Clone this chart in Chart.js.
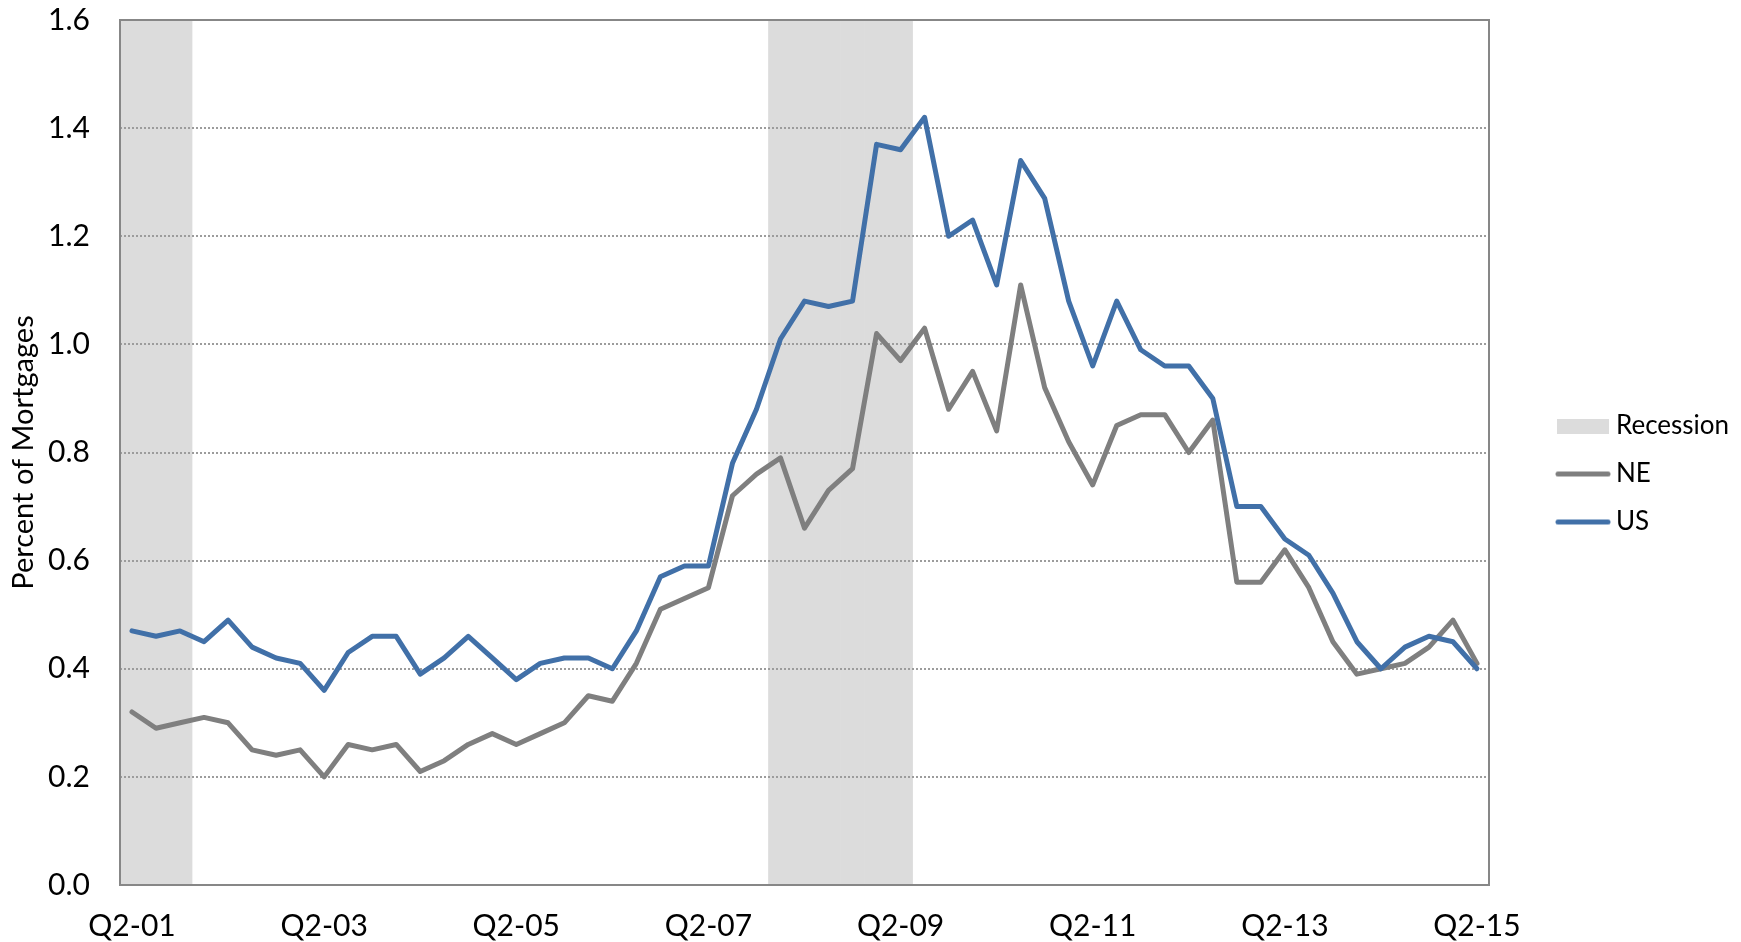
<!DOCTYPE html>
<html>
<head>
<meta charset="utf-8">
<script src="https://cdn.jsdelivr.net/npm/chart.js@4.4.1/dist/chart.umd.min.js"></script>
<style>
  html, body { margin: 0; padding: 0; background: #ffffff; }
  #wrap { position: relative; width: 1741px; height: 942px; }
</style>
</head>
<body>
<div id="wrap"><canvas id="c"></canvas></div>
<script>
const categories = [
  "Q2-01","Q3-01","Q4-01",
  "Q1-02","Q2-02","Q3-02","Q4-02",
  "Q1-03","Q2-03","Q3-03","Q4-03",
  "Q1-04","Q2-04","Q3-04","Q4-04",
  "Q1-05","Q2-05","Q3-05","Q4-05",
  "Q1-06","Q2-06","Q3-06","Q4-06",
  "Q1-07","Q2-07","Q3-07","Q4-07",
  "Q1-08","Q2-08","Q3-08","Q4-08",
  "Q1-09","Q2-09","Q3-09","Q4-09",
  "Q1-10","Q2-10","Q3-10","Q4-10",
  "Q1-11","Q2-11","Q3-11","Q4-11",
  "Q1-12","Q2-12","Q3-12","Q4-12",
  "Q1-13","Q2-13","Q3-13","Q4-13",
  "Q1-14","Q2-14","Q3-14","Q4-14",
  "Q1-15","Q2-15"
];

const neValues = [
  0.32,0.29,0.30,0.31,0.30,0.25,0.24,0.25,0.20,0.26,
  0.25,0.26,0.21,0.23,0.26,0.28,0.26,0.28,0.30,0.35,
  0.34,0.41,0.51,0.53,0.55,0.72,0.76,0.79,0.66,0.73,
  0.77,1.02,0.97,1.03,0.88,0.95,0.84,1.11,0.92,0.82,
  0.74,0.85,0.87,0.87,0.80,0.86,0.56,0.56,0.62,0.55,
  0.45,0.39,0.40,0.41,0.44,0.49,0.41
];

const usValues = [
  0.47,0.46,0.47,0.45,0.49,0.44,0.42,0.41,0.36,0.43,
  0.46,0.46,0.39,0.42,0.46,0.42,0.38,0.41,0.42,0.42,
  0.40,0.47,0.57,0.59,0.59,0.78,0.88,1.01,1.08,1.07,
  1.08,1.37,1.36,1.42,1.20,1.23,1.11,1.34,1.27,1.08,
  0.96,1.08,0.99,0.96,0.96,0.90,0.70,0.70,0.64,0.61,
  0.54,0.45,0.40,0.44,0.46,0.45,0.40
];

// 1 = quarter in recession
const recessionFlags = [
  1,1,1,0,0,0,0,0,0,0,
  0,0,0,0,0,0,0,0,0,0,
  0,0,0,0,0,0,0,1,1,1,
  1,1,1,0,0,0,0,0,0,0,
  0,0,0,0,0,0,0,0,0,0,
  0,0,0,0,0,0,0
];

const yTicks = [0.0,0.2,0.4,0.6,0.8,1.0,1.2,1.4,1.6];
const xLabelEvery = 8;

const Y_MAX = 1.6;
const recessionValues = recessionFlags.map(f => f ? Y_MAX : null);

const COLORS = { ne: '#7f7f7f', us: '#4170a8', rec: '#dcdcdc', frame: '#878787', grid: '#9c9c9c' };
const FONT = "Lato, 'DejaVu Sans', sans-serif";

function rectSwatch(w, h, color) {
  const c = document.createElement('canvas');
  c.width = w; c.height = h;
  const g = c.getContext('2d');
  g.fillStyle = color; g.fillRect(0, 0, w, h);
  return c;
}
function lineSwatch(w, h, color) {
  const c = document.createElement('canvas');
  c.width = w; c.height = h;
  const g = c.getContext('2d');
  g.strokeStyle = color; g.lineWidth = 5; g.lineCap = 'round';
  g.beginPath(); g.moveTo(3, h / 2); g.lineTo(w - 3, h / 2); g.stroke();
  return c;
}
const swatches = [rectSwatch(52, 15, COLORS.rec), lineSwatch(56, 7, COLORS.ne), lineSwatch(56, 7, COLORS.us)];

const LEGEND_WIDTH = 200;

const framePlugin = {
  id: 'frame',
  afterInit(chart) {
    const lg = chart.legend;
    if (lg && !lg._fixedWidth) {
      const orig = lg.fit.bind(lg);
      lg.fit = function () { orig(); this.width = LEGEND_WIDTH; };
      lg._fixedWidth = true;
    }
  },
  afterDatasetDraw(chart, args) {
    if (args.index === 0) {
      chart.scales.y.drawGrid(chart.chartArea);
    }
  },
  afterDatasetsDraw(chart) {
    const a = chart.chartArea, ctx = chart.ctx;
    ctx.save();
    ctx.strokeStyle = COLORS.frame;
    ctx.lineWidth = 2;
    ctx.strokeRect(Math.round(a.left), Math.round(a.top), Math.round(a.right - a.left), Math.round(a.bottom - a.top));
    ctx.restore();
  }
};

new Chart(document.getElementById('c'), {
  data: {
    labels: categories,
    datasets: [
      { type: 'bar', label: 'Recession', data: recessionValues, backgroundColor: COLORS.rec,
        borderWidth: 0, barPercentage: 1.0, categoryPercentage: 1.0, order: 2, yAxisID: 'y' },
      { type: 'line', label: 'NE', data: neValues, borderColor: COLORS.ne, backgroundColor: COLORS.ne,
        borderWidth: 5, pointRadius: 0, tension: 0, borderJoinStyle: 'round', borderCapStyle: 'round', order: 1, yAxisID: 'y' },
      { type: 'line', label: 'US', data: usValues, borderColor: COLORS.us, backgroundColor: COLORS.us,
        borderWidth: 5, pointRadius: 0, tension: 0, borderJoinStyle: 'round', borderCapStyle: 'round', order: 0, yAxisID: 'y' }
    ]
  },
  options: {
    responsive: true,
    maintainAspectRatio: false,
    animation: false,
    layout: { padding: { top: 6, right: 0, bottom: 0, left: 0 } },
    plugins: {
      tooltip: { enabled: false },
      legend: {
        position: 'right',
        align: 'center',
        labels: {
          usePointStyle: true,
          pointStyleWidth: 40,
          padding: 22,
          color: '#000000',
          font: { family: FONT, size: 26 },
          sort: (a, b) => a.datasetIndex - b.datasetIndex,
          generateLabels(chart) {
            return chart.data.datasets.map((ds, i) => ({
              text: ds.label, datasetIndex: i, pointStyle: swatches[i], hidden: false,
              fillStyle: 'rgba(0,0,0,0)', strokeStyle: 'rgba(0,0,0,0)', lineWidth: 0, fontColor: '#000000'
            }));
          }
        }
      }
    },
    scales: {
      x: {
        type: 'category',
        offset: true,
        grid: { display: false, drawTicks: false },
        border: { display: false },
        ticks: {
          autoSkip: false, maxRotation: 0, minRotation: 0, padding: 23,
          color: '#000000', font: { family: FONT, size: 30 },
          callback(value, index) { return index % xLabelEvery === 0 ? categories[index] : ''; }
        },
        afterFit(s) { s.height = 57; }
      },
      y: {
        type: 'linear',
        min: 0, max: Y_MAX,
        afterBuildTicks(s) { s.ticks = yTicks.map(v => ({ value: v })); },
        grid: {
          drawTicks: false,
          lineWidth: 2,
          color: ctx => (ctx.tick && (ctx.tick.value <= 0 || ctx.tick.value >= Y_MAX)) ? 'rgba(0,0,0,0)' : COLORS.grid
        },
        border: { display: false, dash: [2, 2] },
        ticks: {
          padding: 30, color: '#000000', font: { family: FONT, size: 30 },
          callback: v => Number(v).toFixed(1)
        },
        title: {
          display: true, text: 'Percent of Mortgages', color: '#000000',
          font: { family: FONT, size: 29 }, padding: { top: 6, bottom: 0 }
        },
        afterFit(s) { s.width = 120; s.paddingTop = 20; s.paddingBottom = 0; }
      },
      yGap: {
        type: 'linear', position: 'right', min: 0, max: Y_MAX, display: true,
        grid: { display: false, drawTicks: false },
        border: { display: false },
        ticks: { display: false },
        afterFit(s) { s.width = 52; }
      }
    }
  },
  plugins: [framePlugin]
});
</script>
</body>
</html>
